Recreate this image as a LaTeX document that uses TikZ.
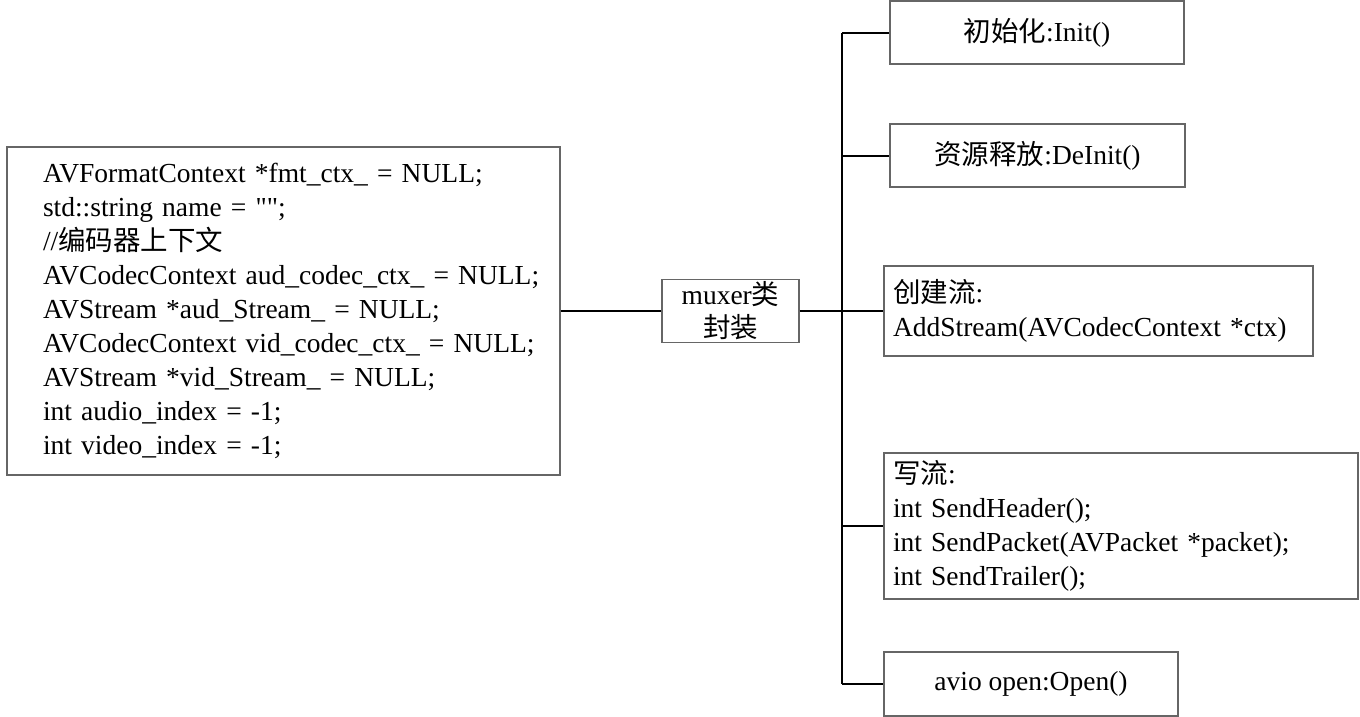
\documentclass[tikz,border=0pt]{standalone}
\usepackage{fontspec}
\setmainfont{Liberation Serif}
\newfontfamily\rawserif{Liberation Serif}
\newfontfamily\cjk{Noto Sans CJK SC}
\newcommand\codeline[1]{\mbox{#1}}
\begin{document}
\begin{tikzpicture}[x=1pt,y=-1pt,
  box/.style={draw=black!60, line width=1.2pt, inner sep=0pt, rectangle,
    font=\fontsize{27.5}{34}\selectfont},
  conn/.style={draw=black, line width=2pt}]
\useasboundingbox (0,0) rectangle (1360,716);
\node[box, minimum width=553, minimum height=328, text width=481, align=left] (vars) at (283.5,311)
  {\codeline{AVFormatContext *fmt\_ctx\_ = NULL;}\\
   \codeline{std::string name = {\rawserif ""};}\\
   \codeline{//{\cjk 编码器上下文}}\\
   \codeline{AVCodecContext aud\_codec\_ctx\_ = NULL;}\\
   \codeline{AVStream *aud\_Stream\_ = NULL;}\\
   \codeline{AVCodecContext vid\_codec\_ctx\_ = NULL;}\\
   \codeline{AVStream *vid\_Stream\_ = NULL;}\\
   \codeline{int audio\_index = -1;}\\
   \codeline{int video\_index = -1;}};
\node[box, minimum width=137, minimum height=63, align=center, font=\fontsize{27.5}{33}\selectfont] (mux) at (730.5,311)
  {muxer{\cjk 类}\\{\cjk 封装}};
\node[box, minimum width=294, minimum height=63, align=center] (b1) at (1037,32.5) {{\cjk 初始化}:Init()};
\node[box, minimum width=295, minimum height=63, align=center] (b2) at (1037.5,155.5) {{\cjk 资源释放}:DeInit()};
\node[box, minimum width=429, minimum height=90, text width=411, align=left] (b3) at (1098.5,311)
  {{\cjk 创建流}:\\AddStream(AVCodecContext *ctx)};
\node[box, minimum width=474, minimum height=146, text width=456, align=left] (b4) at (1121,526)
  {{\cjk 写流}:\\int SendHeader();\\int SendPacket(AVPacket *packet);\\int SendTrailer();};
\node[box, minimum width=294, minimum height=64, align=center] (b5) at (1031,684) {avio open:Open()};
\coordinate (jt) at (842,32.5);
\coordinate (jb) at (842,684);
\draw[conn] (jt) -- (jb);
\draw[conn] (vars.east) -- (mux.west);
\draw[conn] (mux.east) -- (mux.east -| jt);
\foreach \b in {b1,b2,b3,b4,b5}{
  \draw[conn] (\b.west -| jt) -- (\b.west);
}
\end{tikzpicture}
\end{document}
